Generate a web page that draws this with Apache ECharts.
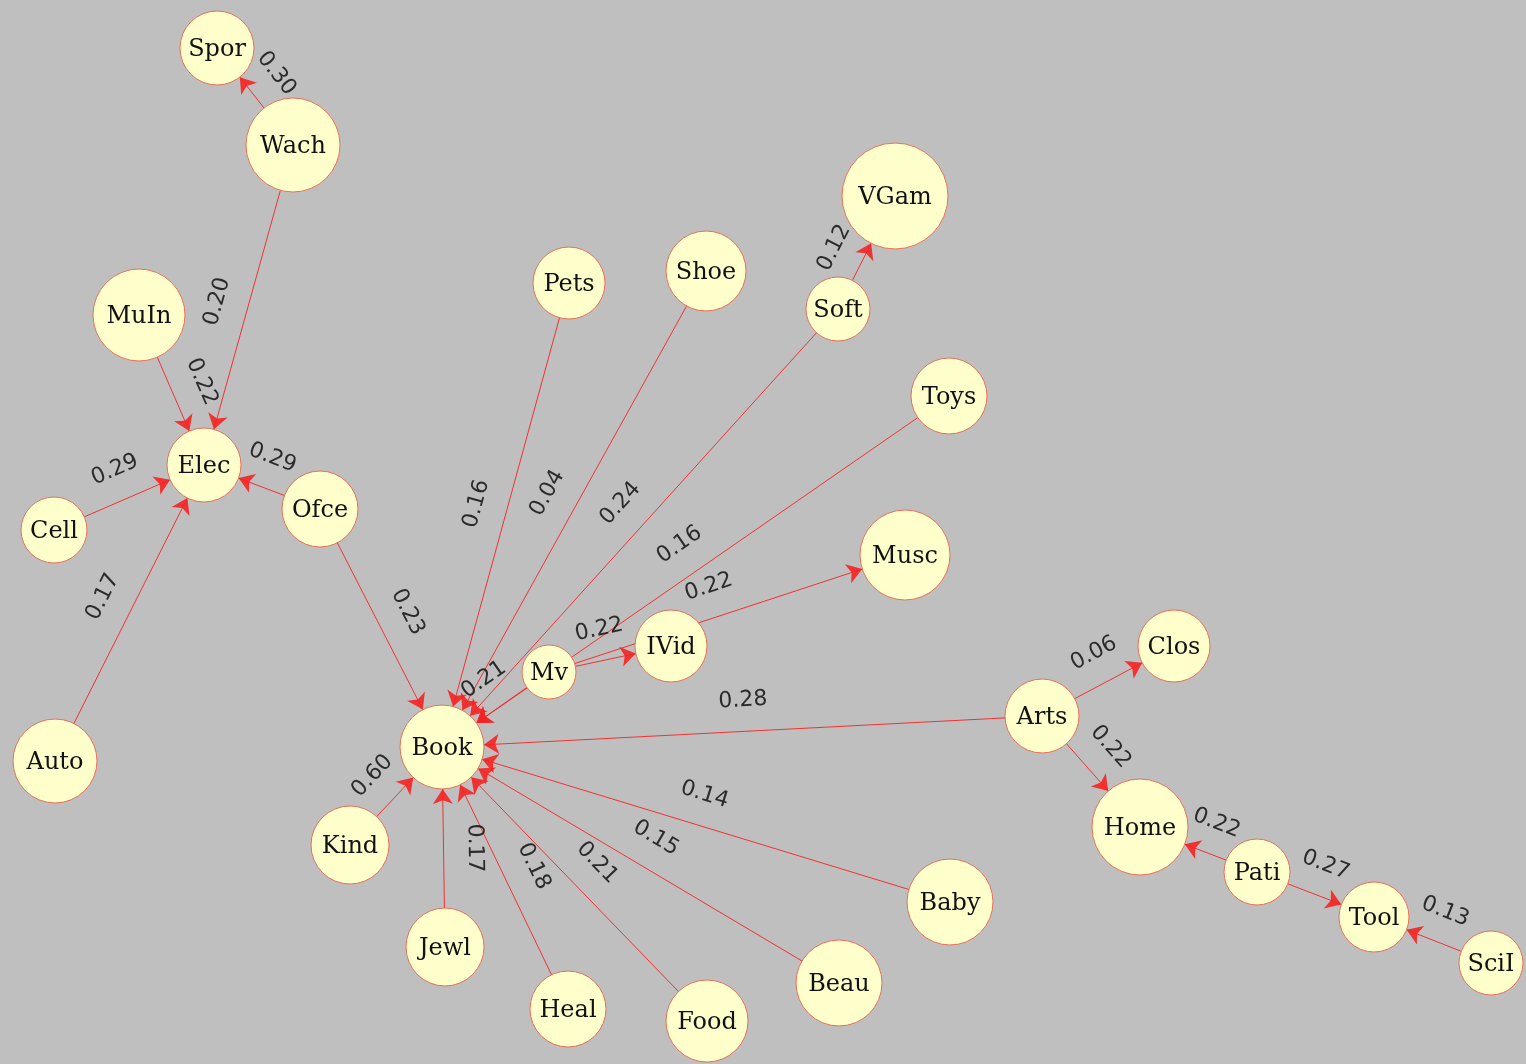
<!DOCTYPE html>
<html>
<head>
<meta charset="utf-8">
<script src="https://cdn.jsdelivr.net/npm/echarts@6/dist/echarts.min.js"></script>
<style>
html,body{margin:0;padding:0;background:#bfbfbf;}
#chart{width:1526px;height:1064px;}
</style>
</head>
<body>
<div id="chart"></div>
<script>
// Node names, layout coordinates and node weights (radius)
const nodeNames = ['Spor','Wach','VGam','Pets','Shoe','Soft','MuIn','Toys','Elec','Cell','Ofce','Musc','Clos','IVid','Mv','Arts','Book','Auto','Kind','Home','Pati','Baby','Tool','SciI','Jewl','Beau','Heal','Food'];
const nodeX = [217,293,895,569,706,838,139,949,204,54,320,905,1174,671,549,1042,442,55,350,1140,1257,950,1374,1491,445,839,568,707];
const nodeY = [48,145,196,283,271,309,315,396,465,530,509,555,646,646,672,716,747,761,845,827,872,902,917,963,947,983,1009,1021];
const nodeWeight = [37,47,53,36,40,32,46,38,37,33,38,45,36,36,27,37,42,42,39,48,33,43,35,32,39,43,38,41];

// Directed edges with weights
const linkSource = ['Wach','Wach','MuIn','Cell','Ofce','Auto','Ofce','Soft','Pets','Shoe','Soft','Toys','Mv','Mv','Mv','Arts','Arts','Arts','Pati','Pati','SciI','Kind','Jewl','Heal','Food','Beau','Baby'];
const linkTarget = ['Spor','Elec','Elec','Elec','Elec','Elec','Book','VGam','Book','Book','Book','Book','Musc','IVid','Book','Book','Clos','Home','Home','Tool','Tool','Book','Book','Book','Book','Book','Book'];
const linkWeight = ['0.30','0.20','0.22','0.29','0.29','0.17','0.23','0.12','0.16','0.04','0.24','0.16','0.22','0.22','0.21','0.28','0.06','0.22','0.22','0.27','0.13','0.60','0.17','0.18','0.21','0.15','0.14'];

const nodes = nodeNames.map((n, i) => ({
  name: n,
  value: [nodeX[i], nodeY[i]],
  symbolSize: nodeWeight[i] * 2
}));
const links = linkSource.map((s, i) => ({
  source: s,
  target: linkTarget[i],
  value: linkWeight[i]
}));

const chart = echarts.init(document.getElementById('chart'));
chart.setOption({
  backgroundColor: '#bfbfbf',
  animation: false,
  grid: {left: 0, right: 0, top: 0, bottom: 0},
  xAxis: {type: 'value', min: 0, max: 1526, show: false},
  yAxis: {type: 'value', min: 0, max: 1064, inverse: true, show: false},
  series: [{
    type: 'graph',
    coordinateSystem: 'cartesian2d',
    layout: 'none',
    data: nodes,
    links: links,
    edgeSymbol: ['circle', 'arrow'],
    edgeSymbolSize: [0, 15],
    itemStyle: {color: '#ffffcc', borderColor: '#e8705a', borderWidth: 1},
    label: {
      show: true,
      position: 'inside',
      offset: [0, 2],
      fontFamily: 'DejaVu Serif',
      fontSize: 24,
      color: '#111'
    },
    lineStyle: {color: '#f52222', width: 1, opacity: 0.9, curveness: 0},
    edgeLabel: {
      show: true,
      position: 'middle',
      distance: 20,
      formatter: '{c}',
      fontFamily: 'DejaVu Sans',
      fontSize: 22,
      color: '#1a1a1a'
    },
    emphasis: {disabled: true}
  }]
});
</script>
</body>
</html>
